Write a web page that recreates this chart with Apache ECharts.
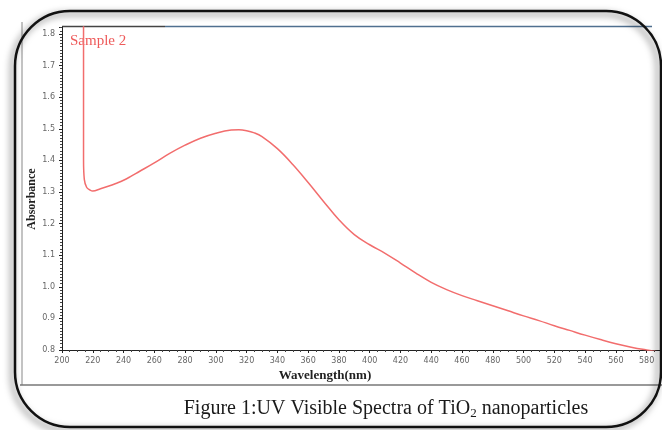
<!DOCTYPE html>
<html>
<head>
<meta charset="utf-8">
<script src="https://cdn.jsdelivr.net/npm/echarts@6/dist/echarts.min.js"></script>
<style>
html,body{margin:0;padding:0;background:#fff;}
#chart{width:662px;height:430px;}
</style>
</head>
<body>
<div id="chart"></div>
<script>
// Wavelength (nm) of each sampled point
var wavelengths = [214, 214, 214.5, 216, 218, 220, 225, 230, 235, 240, 245, 250, 260, 270, 280, 290, 300, 310, 315, 320, 325, 330, 340, 350, 360, 370, 380, 390, 400, 410, 420, 430, 440, 450, 460, 470, 480, 490, 500, 510, 520, 530, 540, 550, 560, 570, 580, 590];
// Absorbance
var absorbance = [1.90, 1.40, 1.34, 1.315, 1.307, 1.303, 1.310, 1.318, 1.327, 1.337, 1.350, 1.364, 1.392, 1.422, 1.448, 1.470, 1.486, 1.496, 1.497, 1.494, 1.487, 1.475, 1.437, 1.387, 1.330, 1.270, 1.212, 1.165, 1.133, 1.106, 1.075, 1.043, 1.014, 0.991, 0.972, 0.956, 0.940, 0.924, 0.908, 0.893, 0.877, 0.862, 0.847, 0.833, 0.820, 0.809, 0.800, 0.792];
var seriesName = 'Sample 2';
var xTitle = 'Wavelength(nm)';
var yTitle = 'Absorbance';
var captionMain = 'Figure 1:UV Visible Spectra of TiO';
var captionSub = '2';
var captionEnd = ' nanoparticles';

var points = wavelengths.map(function (w, i) { return [w, absorbance[i]]; });

var chart = echarts.init(document.getElementById('chart'));
chart.setOption({
  backgroundColor: '#ffffff',
  animation: false,
  grid: { left: 62, right: 0, top: 27, bottom: 80, containLabel: false },
  xAxis: {
    type: 'value', min: 200, max: 590, interval: 20,
    axisLine: { show: true, lineStyle: { color: '#222', width: 1 } },
    axisTick: { show: true, length: 3, lineStyle: { color: '#222' } },
    minorTick: { show: true, splitNumber: 4, length: 2, lineStyle: { color: '#444' } },
    splitLine: { show: false },
    axisLabel: { showMaxLabel: false, color: '#666', fontSize: 8, fontFamily: 'DejaVu Sans', margin: 7 }
  },
  yAxis: {
    type: 'value', min: 0.8, max: 1.822, interval: 0.1,
    axisLine: { show: true, lineStyle: { color: '#222', width: 1 } },
    axisTick: { show: true, length: 3, lineStyle: { color: '#222' } },
    minorTick: { show: true, splitNumber: 10, length: 2, lineStyle: { color: '#444' } },
    splitLine: { show: false },
    axisLabel: { showMaxLabel: false, color: '#666', fontSize: 8, fontFamily: 'DejaVu Sans', margin: 7,
      formatter: function (v) { return v.toFixed(1); } }
  },
  series: [{
    name: seriesName, type: 'line', data: points, smooth: 0.4, showSymbol: false,
    clip: true,
    lineStyle: { color: '#f26d6d', width: 1.5 }
  }],
  graphic: [
    { type: 'rect', shape: { x: 15, y: 11, width: 646, height: 416, r: 55 },
      style: { fill: 'none', stroke: '#111', lineWidth: 2.5,
        shadowBlur: 7, shadowOffsetX: -3, shadowOffsetY: 3, shadowColor: 'rgba(0,0,0,0.6)' }, z: 10 },
    { type: 'line', shape: { x1: 22, y1: 22, x2: 22, y2: 385 }, style: { stroke: '#888', lineWidth: 1 } },
    { type: 'line', shape: { x1: 20, y1: 385, x2: 662, y2: 385 }, style: { stroke: '#777', lineWidth: 1.5 } },
    { type: 'line', shape: { x1: 62, y1: 26.5, x2: 165, y2: 26.5 }, style: { stroke: '#444', lineWidth: 1.5 } },
    { type: 'line', shape: { x1: 165, y1: 26.5, x2: 652, y2: 26.5 }, style: { stroke: '#4f6f8f', lineWidth: 1.5 } },
    { type: 'text', left: 70, top: 34, style: { text: seriesName, fill: '#ee5a5a', font: '15px "Liberation Serif"' } },
    { type: 'text', x: 325, y: 376, style: { text: xTitle, fill: '#222', font: 'bold 13px "Liberation Serif"', align: 'center', verticalAlign: 'middle' } },
    { type: 'text', x: 32, y: 199, rotation: Math.PI / 2, style: { text: yTitle, fill: '#222', font: 'bold 12px "Liberation Serif"', align: 'center', verticalAlign: 'middle' } },
    { type: 'text', x: 386, y: 409, style: {
        text: '{m|' + captionMain + '}{s|' + captionSub + '}{m|' + captionEnd + '}',
        align: 'center', verticalAlign: 'middle',
        rich: {
          m: { font: '20px "Liberation Serif"', fill: '#1a1a1a', color: '#1a1a1a' },
          s: { font: '13px "Liberation Serif"', fill: '#1a1a1a', color: '#1a1a1a', padding: [10, 0, 0, 0] }
        } } }
  ]
});
</script>
</body>
</html>
